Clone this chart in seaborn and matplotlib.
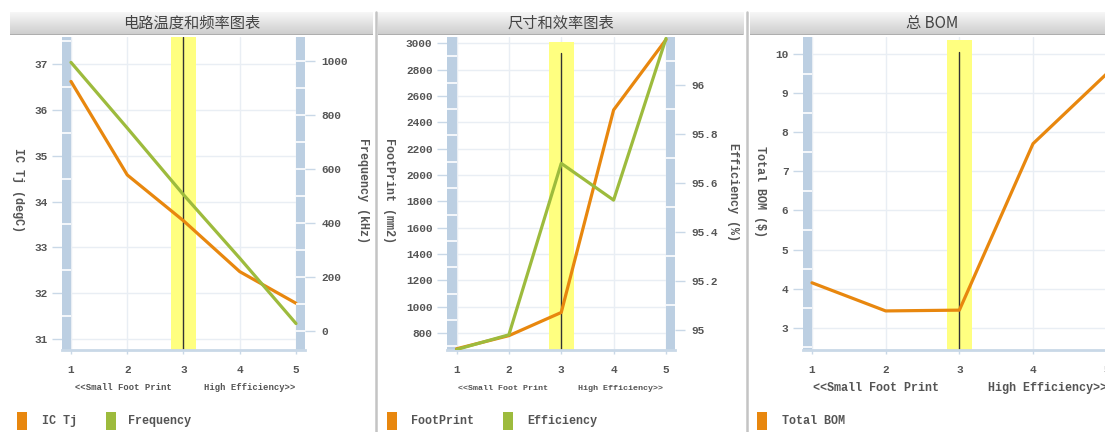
import numpy as np
import matplotlib
matplotlib.use("Agg")
import matplotlib.pyplot as plt
import seaborn as sns
from matplotlib.patches import Rectangle
from matplotlib.lines import Line2D

# ---------------- data ----------------
X = [1, 2, 3, 4, 5]
IC_TJ = [36.62, 34.58, 33.58, 32.47, 31.78]
FREQUENCY = [995, 752, 505, 270, 28]
FOOTPRINT = [680, 780, 956, 2494, 3028]
EFFICIENCY = [94.92, 94.98, 95.68, 95.53, 96.19]
TOTAL_BOM = [4.15, 3.43, 3.45, 7.71, 9.5]

TITLES = ["电路温度和频率图表", "尺寸和效率图表", "总 BOM"]
X_NOTE = "<<Small Foot Print      High Efficiency>>"
X_NOTE3 = "<<Small Foot Print       High Efficiency>>"
TJ_TICKS = [31, 32, 33, 34, 35, 36, 37]
FREQ_TICKS = [0, 200, 400, 600, 800, 1000]
FP_TICKS = [800, 1000, 1200, 1400, 1600, 1800, 2000, 2200, 2400, 2600, 2800, 3000]
EFF_TICKS = [95.0, 95.2, 95.4, 95.6, 95.8, 96.0]
EFF_TICK_LABELS = ["95", "95.2", "95.4", "95.6", "95.8", "96"]
BOM_TICKS = [3, 4, 5, 6, 7, 8, 9, 10]

ORANGE = "#e8870e"
GREEN = "#9dbb3d"
BAR = "#bccfe2"
AXLINE = "#c9d8e7"
GRID = "#e9eef4"
YELLOW = "#ffff80"
TXT = "#555555"

sns.set_theme(style="white")
plt.rcParams["font.family"] = ["Liberation Mono", "Noto Sans CJK SC", "DejaVu Sans"]
plt.rcParams["font.weight"] = "bold"

W, H = 1105, 432
fig = plt.figure(figsize=(W / 100, H / 100), dpi=100)


def rect(l, t, r, b):
    return [l / W, 1 - b / H, (r - l) / W, (b - t) / H]


def fx(x):
    return x / W


def fy(y):
    return 1 - y / H


TOP, BOT = 37, 350


def title_bar(l, r, text):
    tax = fig.add_axes(rect(l, 12, r, 35))
    grad = np.linspace(0.97, 0.80, 50)
    img = np.dstack([grad, grad, grad])[:, None, :].reshape(50, 1, 3)
    tax.imshow(img, aspect="auto", extent=[0, 1, 0, 1])
    tax.axhline(0.02, color="#a8a8a8", lw=1.2)
    tax.set_axis_off()
    fig.text(fx((l + r) / 2), fy(23.5), text, ha="center", va="center",
             fontsize=11, color="#444444", family=["Noto Sans CJK SC", "DejaVu Sans"],
             fontweight="normal")


def base_axes(l, r, xlim, ylim, yticks, ylabels=None):
    ax = fig.add_axes(rect(l, TOP, r, BOT))
    ax.set_xlim(*xlim)
    ax.set_ylim(*ylim)
    ax.set_facecolor("white")
    ax.set_xticks(X)
    ax.set_yticks(yticks)
    if ylabels is not None:
        ax.set_yticklabels(ylabels)
    ax.grid(True, color=GRID, lw=1)
    ax.set_axisbelow(True)
    for s in ["top", "left", "right"]:
        ax.spines[s].set_visible(False)
    ax.spines["bottom"].set_color(AXLINE)
    ax.spines["bottom"].set_linewidth(2)
    ax.tick_params(axis="y", left=True, length=7, width=1, color=AXLINE, pad=3.5,
                   labelsize=8, labelcolor=TXT)
    ax.tick_params(axis="x", bottom=True, length=3, width=1, color=AXLINE, pad=8,
                   labelsize=8, labelcolor=TXT)
    return ax


def left_bar(ax, xlim, seps):
    ax.axvspan(xlim[0], 1.0, color=BAR, zorder=1, lw=0)
    ax.hlines(seps, xlim[0], 1.0, color="white", lw=1.2, zorder=1.1)


def right_bar(ax, xlim, seps):
    ax.axvspan(5.0, xlim[1], color=BAR, zorder=1, lw=0)
    ax.hlines(seps, 5.0, xlim[1], color="white", lw=1.2, zorder=1.1)


def marker(ax, a, b, ytop_band, ytop_line):
    ax.axvspan(a, b, ymin=0, ymax=ytop_band, color=YELLOW, zorder=1.2, lw=0)
    ax.axvline(3, ymin=0, ymax=ytop_line, color="#333333", lw=1, zorder=1.6)


def twin(ax, ylim, yticks, ylabels=None):
    ax2 = ax.twinx()
    ax2.set_ylim(*ylim)
    ax2.set_yticks(yticks)
    if ylabels is not None:
        ax2.set_yticklabels(ylabels)
    ax2.grid(False)
    for s in ax2.spines.values():
        s.set_visible(False)
    ax2.tick_params(axis="y", right=True, length=7, width=1, color=AXLINE, pad=5,
                    labelsize=8, labelcolor=TXT)
    return ax2


def vlabel(x, y, text, size=8.5):
    fig.text(fx(x), fy(y), text, rotation=270, ha="center", va="center",
             fontsize=size, color=TXT)


def legend_item(x, text, color, tx):
    fig.add_artist(Rectangle((fx(x), fy(430)), 10 / W, 18 / H, transform=fig.transFigure,
                             color=color, lw=0))
    fig.text(fx(tx), fy(421), text, ha="left", va="center", fontsize=8.5, color=TXT)


# ---------------- panel 1 ----------------
title_bar(10, 373, TITLES[0])
xl1 = (0.84, 5.16)
ax1 = base_axes(62, 305, xl1, (30.76, 37.59), TJ_TICKS)
left_bar(ax1, xl1, [31.5, 32.5, 33.5, 34.5, 35.5, 36.5, 37.5])
right_bar(ax1, xl1, [])
marker(ax1, 2.78, 3.22, 1.0, 1.0)
sns.lineplot(x=X, y=IC_TJ, ax=ax1, color=ORANGE, lw=2.3, zorder=3)
ax1b = twin(ax1, (-70, 1089), FREQ_TICKS)
ax1b.hlines([0, 100, 200, 300, 400, 500, 600, 700, 800, 900, 1000], 5.0, xl1[1],
            color="white", lw=1.2, zorder=1.1)
sns.lineplot(x=X, y=FREQUENCY, ax=ax1b, color=GREEN, lw=2.3, zorder=3)
ax1b.set_xlim(*xl1)
ax1.set_xlabel("")
ax1.set_ylabel("")
ax1b.set_ylabel("")
fig.text(fx(185.5), fy(388), X_NOTE, ha="center", va="center", fontsize=6.4, color=TXT)
vlabel(18, 190, "IC Tj (degC)")
vlabel(363, 190, "Frequency (kHz)")
legend_item(17, "IC Tj", ORANGE, 42)
legend_item(106, "Frequency", GREEN, 128)

# ---------------- panel 2 ----------------
title_bar(378, 743, TITLES[1])
xl2 = (0.8186, 5.172)
ax2 = base_axes(447, 675, xl2, (671, 3048), FP_TICKS)
left_bar(ax2, xl2, [700, 900, 1100, 1300, 1500, 1700, 1900, 2100, 2300, 2500, 2700, 2900])
right_bar(ax2, xl2, [])
marker(ax2, 2.765, 3.24, 0.984, 0.949)
sns.lineplot(x=X, y=FOOTPRINT, ax=ax2, color=ORANGE, lw=2.3, zorder=3)
ax2b = twin(ax2, (94.918, 96.196), EFF_TICKS, EFF_TICK_LABELS)
ax2b.hlines([95.1, 95.3, 95.5, 95.7, 95.9, 96.1], 5.0, xl2[1], color="white", lw=1.2, zorder=1.1)
sns.lineplot(x=X, y=EFFICIENCY, ax=ax2b, color=GREEN, lw=2.3, zorder=3)
ax2b.set_xlim(*xl2)
ax2.set_xlabel("")
ax2.set_ylabel("")
ax2b.set_ylabel("")
fig.text(fx(560.5), fy(388), X_NOTE, ha="center", va="center", fontsize=6.0, color=TXT)
vlabel(389, 191, "FootPrint (mm2)")
vlabel(733, 192, "Efficiency (%)")
legend_item(387, "FootPrint", ORANGE, 411)
legend_item(503, "Efficiency", GREEN, 527)

# ---------------- panel 3 ----------------
title_bar(750, 1115, TITLES[2])
xl3 = (0.878, 5.126)
ax3 = base_axes(803, 1116, xl3, (2.43, 10.44), BOM_TICKS)
left_bar(ax3, xl3, [2.5, 3.5, 4.5, 5.5, 6.5, 7.5, 8.5, 9.5])
marker(ax3, 2.83, 3.17, 0.990, 0.952)
sns.lineplot(x=X, y=TOTAL_BOM, ax=ax3, color=ORANGE, lw=2.3, zorder=3)
ax3.set_xlabel("")
ax3.set_ylabel("")
fig.text(fx(960), fy(388), X_NOTE3, ha="center", va="center", fontsize=8.5, color=TXT)
vlabel(760, 191, "Total BOM ($)")
legend_item(757, "Total BOM", ORANGE, 782)

# ---------------- separators ----------------
for sx in (375.5, 746.5):
    fig.add_artist(Line2D([fx(sx), fx(sx)], [fy(12), fy(432)], transform=fig.transFigure,
                          color="#c4c4c4", lw=1.8))

fig.savefig("out.png", dpi=100)
